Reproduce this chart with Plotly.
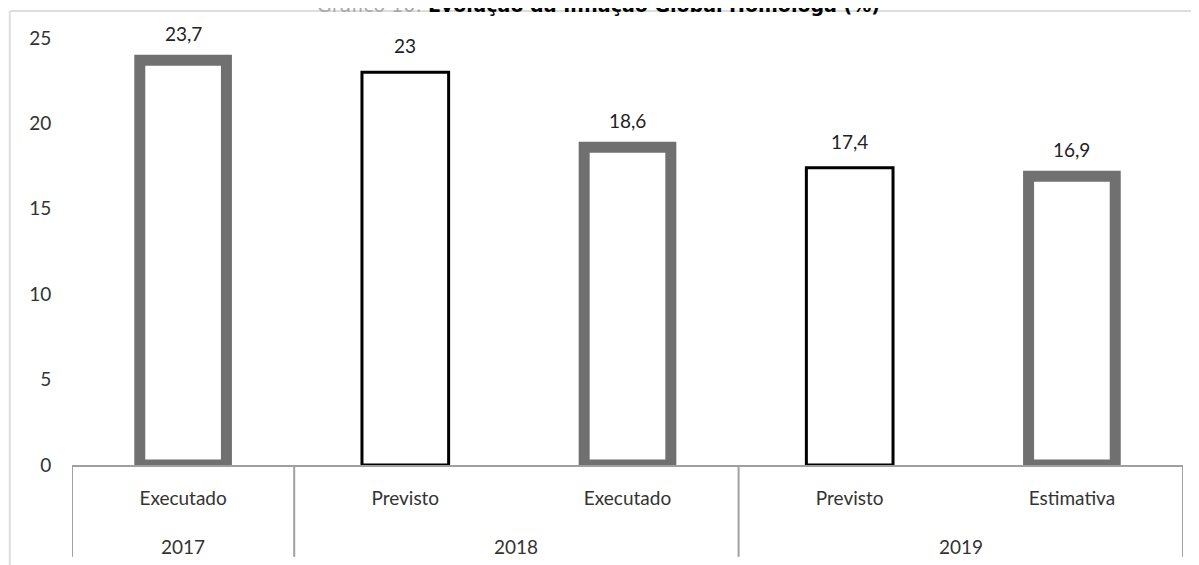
import plotly.graph_objects as go

years = ["2017", "2018", "2018", "2019", "2019"]
kinds = ["Executado", "Previsto", "Executado", "Previsto", "Estimativa"]
values = [23.7, 23, 18.6, 17.4, 16.9]
labels = ["23,7", "23", "18,6", "17,4", "16,9"]

GRAY = "#707070"
AXIS = "#a0a0a0"
TXT = "#333333"
FONT = "Lato, sans-serif"

pos = list(range(len(values)))
line_colors = [GRAY if k != "Previsto" else "#000000" for k in kinds]
line_widths = [11 if k != "Previsto" else 3 for k in kinds]

fig = go.Figure()
fig.add_trace(go.Bar(
    x=pos, y=values,
    marker=dict(color="white", line=dict(color=line_colors, width=line_widths)),
    width=0.39, showlegend=False, hoverinfo="skip",
))

# value labels above bars
for i, (v, t) in enumerate(zip(values, labels)):
    fig.add_annotation(x=i, y=v, text=t, showarrow=False, yanchor="bottom",
                       yshift=13, font=dict(family=FONT, size=19, color="#222222"))

# year groups: label under the kinds, dividers between groups
groups = []
for i, y in enumerate(years):
    if groups and groups[-1][0] == y:
        groups[-1][2] = i
    else:
        groups.append([y, i, i])
for y, a, b in groups:
    fig.add_annotation(x=(a + b) / 2, y=-0.19, yref="paper", text=y, showarrow=False,
                       yanchor="middle", font=dict(family=FONT, size=19, color=TXT))
edges = [groups[0][1] - 0.5] + [b + 0.5 for _, _, b in groups]
for e in edges:
    fig.add_shape(type="line", x0=e, x1=e, yref="paper", y0=0, y1=-0.215,
                  line=dict(color=AXIS, width=2))

# light frame around chart (top and left edges only visible)
fig.add_shape(type="line", xref="paper", yref="paper", x0=-0.056, x1=1.03, y0=1.063, y1=1.063,
              line=dict(color="#dddddd", width=2))
fig.add_shape(type="line", xref="paper", yref="paper", x0=-0.056, x1=-0.056, y0=1.063, y1=-0.25,
              line=dict(color="#dddddd", width=2))

# title, partly cut off at the top as in the source
fig.add_annotation(
    xref="paper", yref="paper", x=0.474, y=1.077, xanchor="center", yanchor="middle", showarrow=False,
    text="<span style='color:#a8a8a8'>Gráfico 10:</span> <b>Evolução da Inflação Global Homóloga (%)</b>",
    font=dict(family="DejaVu Sans, sans-serif", size=19, color="#000000"),
)

# page body has an 8px margin, so the figure is sized to fit inside the window
fig.update_layout(
    width=1191, height=557,
    margin=dict(l=64, r=16, t=30, b=100),
    paper_bgcolor="white", plot_bgcolor="white",
    font=dict(family=FONT, size=19, color=TXT),
)
fig.update_xaxes(
    range=[-0.5, len(values) - 0.5], tickmode="array", tickvals=pos, ticktext=kinds,
    showline=True, linecolor=AXIS, linewidth=2, showgrid=False, zeroline=False,
    ticks="outside", ticklen=15, tickcolor="rgba(0,0,0,0)", automargin=False,
    tickfont=dict(family=FONT, size=19, color=TXT),
)
fig.update_yaxes(
    range=[0, 25], dtick=5, showgrid=False, zeroline=False, showline=False,
    ticks="outside", ticklen=16, tickcolor="rgba(0,0,0,0)", automargin=False,
    tickfont=dict(family=FONT, size=19, color=TXT),
)

fig.write_html("out.html")
